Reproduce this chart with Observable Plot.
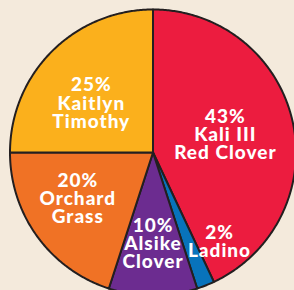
<!DOCTYPE html>
<html>
<head>
<meta charset="utf-8">
<script src="https://cdn.jsdelivr.net/npm/d3@7"></script>
<script src="https://cdn.jsdelivr.net/npm/@observablehq/plot@0.6"></script>
<style>
  html, body { margin: 0; padding: 0; background: #F4EADC; overflow: hidden; }
  text { letter-spacing: 1px; }
</style>
</head>
<body>
<div id="chart"></div>
<script>
// Data
const categories = ["Kali III Red Clover", "Ladino", "Alsike Clover", "Orchard Grass", "Kaitlyn Timothy"];
const shares = [43, 2, 10, 20, 25];
const labels = ["43%\nKali III\nRed Clover", "2%\nLadino", "10%\nAlsike\nClover", "20%\nOrchard\nGrass", "25%\nKaitlyn\nTimothy"];
const colors = ["#EC1C3F", "#0873BB", "#6C2C90", "#F07225", "#FBB01C"];

// Label placement nudges (angle offset in degrees, radius fraction) — layout only
const labelPolar = [[-0.7, 0.52], [-15, 0.78], [0, 0.64], [4, 0.62], [-6.7, 0.55]];

const arcs = d3.pie().sort(null).value(d => d)(shares);
const slicePts = [];
arcs.forEach((a, i) => {
  const name = categories[i];
  slicePts.push({name, x: 0, y: 0});
  const n = Math.max(2, Math.ceil((a.endAngle - a.startAngle) / 0.01));
  for (let k = 0; k <= n; k++) {
    const t = a.startAngle + (a.endAngle - a.startAngle) * k / n;
    slicePts.push({name, x: Math.sin(t), y: Math.cos(t)});
  }
});
const labelData = arcs.map((a, i) => {
  const mid = (a.startAngle + a.endAngle) / 2 + labelPolar[i][0] * Math.PI / 180;
  const r = labelPolar[i][1];
  return {name: categories[i], text: labels[i], x: r * Math.sin(mid), y: r * Math.cos(mid)};
});

const chart = Plot.plot({
  width: 294,
  height: 290,
  margin: 0,
  x: {domain: [-1, 1], range: [9.5, 295.5], axis: null},
  y: {domain: [-1, 1], range: [295, 9], axis: null},
  color: {domain: categories, range: colors},
  style: {background: "#F4EADC", overflow: "hidden"},
  marks: [
    Plot.line(slicePts, {x: "x", y: "y", z: "name", fill: "name", stroke: "#231F20", strokeWidth: 2, strokeLinejoin: "round", curve: "linear-closed"}),
    Plot.text(labelData, {x: "x", y: "y", text: "text", fill: "white", fontSize: 19, fontWeight: 900, fontFamily: "Lato", lineHeight: 0.95, lineAnchor: "middle"})
  ]
});
document.getElementById("chart").append(chart);
</script>
</body>
</html>
